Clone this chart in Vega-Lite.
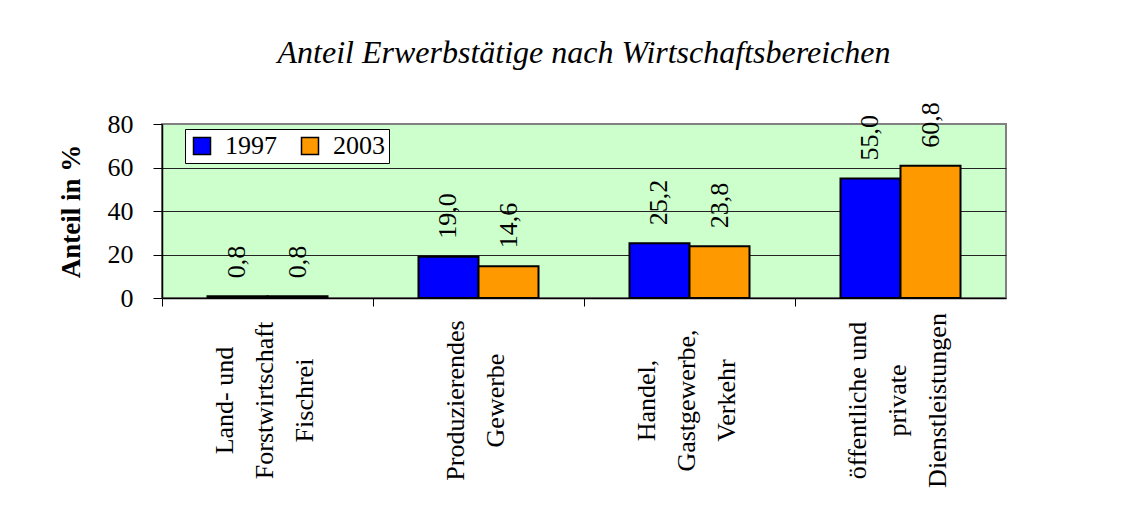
{
  "$schema": "https://vega.github.io/schema/vega-lite/v6.json",
  "width": 844,
  "height": 174,
  "autosize": {"type": "none"},
  "padding": {"left": 162, "top": 124, "right": 142, "bottom": 211},
  "background": "white",
  "title": {
    "text": "Anteil Erwerbstätige nach Wirtschaftsbereichen",
    "font": "Liberation Serif",
    "fontStyle": "italic",
    "fontWeight": "normal",
    "fontSize": 32,
    "color": "black",
    "anchor": "middle",
    "frame": "group",
    "baseline": "alphabetic",
    "offset": 0,
    "dy": -7
  },
  "config": {
    "locale": {"number": {"decimal": ",", "thousands": ".", "grouping": [3], "currency": ["", " €"]}},
    "view": {"fill": "#CCFFCC", "stroke": "#808080", "strokeWidth": 2},
    "font": "Liberation Serif"
  },
  "data": {
    "values": [
      {"cat": "Land- und|Forstwirtschaft|Fischrei", "year": "1997", "value": 0.8},
      {"cat": "Land- und|Forstwirtschaft|Fischrei", "year": "2003", "value": 0.8},
      {"cat": "Produzierendes|Gewerbe", "year": "1997", "value": 19.0},
      {"cat": "Produzierendes|Gewerbe", "year": "2003", "value": 14.6},
      {"cat": "Handel,|Gastgewerbe,|Verkehr", "year": "1997", "value": 25.2},
      {"cat": "Handel,|Gastgewerbe,|Verkehr", "year": "2003", "value": 23.8},
      {"cat": "öffentliche und|private|Dienstleistungen", "year": "1997", "value": 55.0},
      {"cat": "öffentliche und|private|Dienstleistungen", "year": "2003", "value": 60.8}
    ]
  },
  "encoding": {
    "x": {
      "field": "cat",
      "type": "nominal",
      "sort": null,
      "scale": {"paddingInner": 0, "paddingOuter": 0},
      "axis": {
        "title": null,
        "bandPosition": 0,
        "labelOffset": {"condition": {"test": "length(split(datum.label, '|')) === 3", "value": -43}, "value": -23},
        "labelExpr": "split(datum.label, '|')",
        "labelAngle": -90,
        "labelAlign": "center",
        "labelBaseline": "middle",
        "labelLineHeight": 40,
        "labelFontSize": 26,
        "labelColor": "black",
        "labelPadding": 94,
        "labelLimit": 400,
        "labelOverlap": false,
        "tickSize": 8,
        "tickColor": "black",
        "domainColor": "black",
        "domainWidth": 1.5,
        "grid": false
      }
    },
    "xOffset": {"field": "year", "type": "nominal", "scale": {"paddingInner": 0, "paddingOuter": 0.758}},
    "y": {
      "field": "value",
      "type": "quantitative",
      "scale": {"domain": [0, 80]},
      "axis": {
        "title": "Anteil in %",
        "titleFont": "Liberation Serif",
        "titleFontSize": 27,
        "titleFontWeight": "bold",
        "titleColor": "black",
        "titlePadding": 22,
        "values": [0, 20, 40, 60, 80],
        "format": "d",
        "labelFontSize": 26,
        "labelColor": "black",
        "labelPadding": 20,
        "tickSize": 9,
        "tickColor": "black",
        "domainColor": "black",
        "domainWidth": 1.5,
        "gridColor": "#222222",
        "gridOpacity": {"condition": {"test": "datum.value === 80 || datum.value === 0", "value": 0}, "value": 1}
      }
    }
  },
  "layer": [
    {
      "mark": {"type": "bar", "stroke": "black", "strokeWidth": 2},
      "encoding": {
        "color": {
          "field": "year",
          "type": "nominal",
          "scale": {"range": ["#0000FF", "#FF9900"]},
          "legend": {
            "title": null,
            "orient": "none",
            "legendX": 23,
            "legendY": 5,
            "direction": "horizontal",
            "fillColor": "white",
            "strokeColor": "black",
            "padding": 4,
            "symbolType": "square",
            "symbolSize": 289,
            "symbolStrokeColor": "black",
            "symbolStrokeWidth": 1.5,
            "symbolOpacity": 1,
            "symbolFillOpacity": 1,
            "labelFontSize": 26,
            "labelColor": "black",
            "labelOffset": 10,
            "columnPadding": 20
          }
        }
      }
    },
    {
      "mark": {"type": "text", "angle": 270, "align": "left", "baseline": "middle", "dx": 18, "fontSize": 26, "font": "Liberation Serif", "color": "black"},
      "encoding": {
        "text": {"field": "value", "type": "quantitative", "format": ".1f"}
      }
    }
  ]
}
